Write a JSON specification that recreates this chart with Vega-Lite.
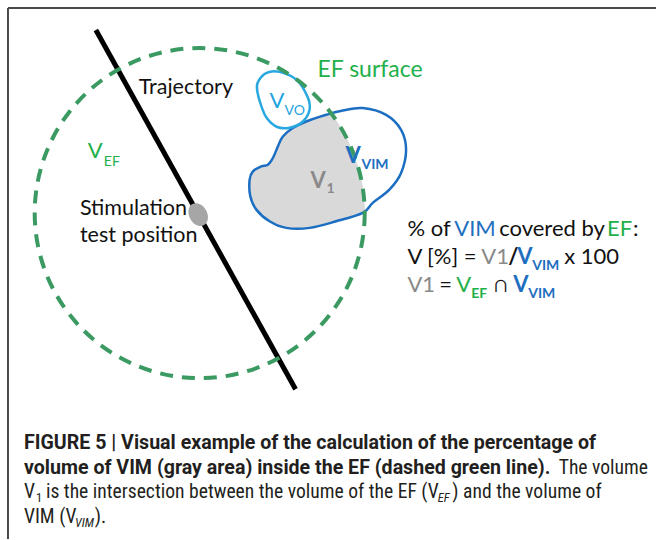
{
  "$schema": "https://vega.github.io/schema/vega-lite/v6.json",
  "width": 657,
  "height": 540,
  "autosize": {"type": "fit", "contains": "padding"},
  "padding": 0,
  "background": "white",
  "config": {"view": {"stroke": null}},
  "encoding": {
    "x": {"field": "x", "type": "quantitative", "scale": {"domain": [0, 657], "nice": false, "zero": false}, "axis": null},
    "y": {"field": "y", "type": "quantitative", "scale": {"domain": [0, 540], "nice": false, "zero": false, "reverse": true}, "axis": null}
  },
  "layer": [
    {
      "data": {"values": [
        {"x": 8, "y": 8, "x2": 657, "y2": 8},
        {"x": 8, "y": 8, "x2": 8, "y2": 540}
      ]},
      "mark": {"type": "rule", "stroke": "#4a4a4a", "strokeWidth": 2},
      "encoding": {"x2": {"field": "x2"}, "y2": {"field": "y2"}}
    },
    {
      "data": {"values": [
        {"i": 1, "x": 331.5, "y": 113.8},
        {"i": 2, "x": 326.7, "y": 115},
        {"i": 3, "x": 306.7, "y": 121.7},
        {"i": 4, "x": 293.3, "y": 128.3},
        {"i": 5, "x": 283.3, "y": 136.7},
        {"i": 6, "x": 278.3, "y": 146.7},
        {"i": 7, "x": 273.3, "y": 158.3},
        {"i": 8, "x": 268.3, "y": 165},
        {"i": 9, "x": 261.7, "y": 166.7},
        {"i": 10, "x": 253.3, "y": 171.7},
        {"i": 11, "x": 250, "y": 180},
        {"i": 12, "x": 250.7, "y": 196.7},
        {"i": 13, "x": 256.7, "y": 210},
        {"i": 14, "x": 270, "y": 221.7},
        {"i": 15, "x": 286.7, "y": 228.3},
        {"i": 16, "x": 310, "y": 228.3},
        {"i": 17, "x": 336.7, "y": 221.7},
        {"i": 18, "x": 365, "y": 211.7},
        {"i": 19, "x": 364.4, "y": 200},
        {"i": 20, "x": 362.5, "y": 185},
        {"i": 21, "x": 359.2, "y": 170},
        {"i": 22, "x": 354.3, "y": 155},
        {"i": 23, "x": 347.7, "y": 140},
        {"i": 24, "x": 339.3, "y": 125}
      ]},
      "mark": {"type": "line", "interpolate": "linear-closed", "fill": "#d9d9d9", "stroke": "#d9d9d9", "strokeWidth": 1},
      "encoding": {"order": {"field": "i", "type": "quantitative"}}
    },
    {
      "data": {"values": [
        {"i": 1, "x": 283.3, "y": 136.7},
        {"i": 2, "x": 293.3, "y": 128.3},
        {"i": 3, "x": 306.7, "y": 121.7},
        {"i": 4, "x": 326.7, "y": 115},
        {"i": 5, "x": 343.3, "y": 110.7},
        {"i": 6, "x": 363.3, "y": 108.3},
        {"i": 7, "x": 386.7, "y": 115},
        {"i": 8, "x": 401.7, "y": 130},
        {"i": 9, "x": 406.7, "y": 150},
        {"i": 10, "x": 401.7, "y": 173.3},
        {"i": 11, "x": 390, "y": 190},
        {"i": 12, "x": 373.3, "y": 203.3},
        {"i": 13, "x": 363.3, "y": 213.3},
        {"i": 14, "x": 336.7, "y": 221.7},
        {"i": 15, "x": 310, "y": 228.3},
        {"i": 16, "x": 286.7, "y": 228.3},
        {"i": 17, "x": 270, "y": 221.7},
        {"i": 18, "x": 256.7, "y": 210},
        {"i": 19, "x": 250.7, "y": 196.7},
        {"i": 20, "x": 250, "y": 180},
        {"i": 21, "x": 253.3, "y": 171.7},
        {"i": 22, "x": 261.7, "y": 166.7},
        {"i": 23, "x": 268.3, "y": 165},
        {"i": 24, "x": 273.3, "y": 158.3},
        {"i": 25, "x": 278.3, "y": 146.7}
      ]},
      "mark": {"type": "line", "interpolate": "cardinal-closed", "stroke": "#1b6ec2", "strokeWidth": 2.5},
      "encoding": {"order": {"field": "i", "type": "quantitative"}}
    },
    {
      "data": {"values": [
        {"i": 1, "x": 258, "y": 83},
        {"i": 2, "x": 267, "y": 73},
        {"i": 3, "x": 280, "y": 72},
        {"i": 4, "x": 297, "y": 80},
        {"i": 5, "x": 308, "y": 97},
        {"i": 6, "x": 310, "y": 110},
        {"i": 7, "x": 303, "y": 122},
        {"i": 8, "x": 290, "y": 128},
        {"i": 9, "x": 277, "y": 127},
        {"i": 10, "x": 267, "y": 118},
        {"i": 11, "x": 262, "y": 107},
        {"i": 12, "x": 258, "y": 93}
      ]},
      "mark": {"type": "line", "interpolate": "cardinal-closed", "stroke": "#29a8e0", "strokeWidth": 2.5},
      "encoding": {"order": {"field": "i", "type": "quantitative"}}
    },
    {
      "data": {"values": [{"x": 96, "y": 30, "x2": 296, "y2": 390}]},
      "mark": {"type": "rule", "stroke": "#000000", "strokeWidth": 5, "strokeCap": "butt"},
      "encoding": {"x2": {"field": "x2"}, "y2": {"field": "y2"}}
    },
    {
      "data": {"values": [{"x": 200, "y": 213.5}]},
      "mark": {"type": "point", "shape": "circle", "size": 108900, "filled": false, "stroke": "#3a9a62", "strokeWidth": 4, "strokeDash": [13, 9], "opacity": 1},
      "encoding": {}
    },
    {
      "data": {"values": [{"x": 198.5, "y": 215}]},
      "mark": {"type": "point", "shape": "M0,-1 A0.75,1 0 1,1 0,1 A0.75,1 0 1,1 0,-1 Z", "size": 576, "filled": true, "fill": "#a6a6a6", "strokeWidth": 0, "opacity": 1, "angle": 331},
      "encoding": {}
    },
    {
      "data": {"values": [
        {"x": 139, "y": 94, "text": "Trajectory", "term": "plain"},
        {"x": 80, "y": 215, "text": "Stimulation", "term": "plain"},
        {"x": 80, "y": 242, "text": "test position", "term": "plain"}
      ]},
      "mark": {"type": "text", "align": "left", "baseline": "alphabetic", "font": "Lato", "fontSize": 21.5},
      "encoding": {"text": {"field": "text"}, "color": {"field": "term", "type": "nominal", "scale": {"domain": ["plain", "EF", "VIM", "VO", "V1"], "range": ["#111111", "#22b04b", "#1f6fbf", "#1ea4df", "#8a8a8a"]}, "legend": null}}
    },
    {
      "data": {"values": [
        {"x": 318, "y": 77, "text": "EF surface", "term": "EF"}
      ]},
      "mark": {"type": "text", "align": "left", "baseline": "alphabetic", "font": "Lato", "fontSize": 23},
      "encoding": {"text": {"field": "text"}, "color": {"field": "term", "type": "nominal", "scale": {"domain": ["plain", "EF", "VIM", "VO", "V1"], "range": ["#111111", "#22b04b", "#1f6fbf", "#1ea4df", "#8a8a8a"]}, "legend": null}}
    },
    {
      "data": {"values": [
        {"x": 88, "y": 158, "text": "V", "term": "EF"},
        {"x": 270, "y": 108, "text": "V", "term": "VO"}
      ]},
      "mark": {"type": "text", "align": "left", "baseline": "alphabetic", "font": "Lato", "fontSize": 22},
      "encoding": {"text": {"field": "text"}, "color": {"field": "term", "type": "nominal", "scale": {"domain": ["plain", "EF", "VIM", "VO", "V1"], "range": ["#111111", "#22b04b", "#1f6fbf", "#1ea4df", "#8a8a8a"]}, "legend": null}}
    },
    {
      "data": {"values": [
        {"x": 285, "y": 115, "text": "VO", "term": "VO"},
        {"x": 104, "y": 166, "text": "EF", "term": "EF"}
      ]},
      "mark": {"type": "text", "align": "left", "baseline": "alphabetic", "font": "Lato", "fontSize": 14},
      "encoding": {"text": {"field": "text"}, "color": {"field": "term", "type": "nominal", "scale": {"domain": ["plain", "EF", "VIM", "VO", "V1"], "range": ["#111111", "#22b04b", "#1f6fbf", "#1ea4df", "#8a8a8a"]}, "legend": null}}
    },
    {
      "data": {"values": [
        {"x": 346, "y": 163, "text": "V", "term": "VIM"},
        {"x": 311, "y": 188, "text": "V", "term": "V1"}
      ]},
      "mark": {"type": "text", "align": "left", "baseline": "alphabetic", "font": "Lato", "fontSize": 22, "fontWeight": "bold"},
      "encoding": {"text": {"field": "text"}, "color": {"field": "term", "type": "nominal", "scale": {"domain": ["plain", "EF", "VIM", "VO", "V1"], "range": ["#111111", "#22b04b", "#1f6fbf", "#1ea4df", "#8a8a8a"]}, "legend": null}}
    },
    {
      "data": {"values": [
        {"x": 362, "y": 169, "text": "VIM", "term": "VIM"},
        {"x": 327, "y": 193, "text": "1", "term": "V1"},
        {"x": 533, "y": 270, "text": "VIM", "term": "VIM"},
        {"x": 472, "y": 299, "text": "EF", "term": "EF"},
        {"x": 529, "y": 299, "text": "VIM", "term": "VIM"}
      ]},
      "mark": {"type": "text", "align": "left", "baseline": "alphabetic", "font": "Lato", "fontSize": 14, "fontWeight": "bold"},
      "encoding": {"text": {"field": "text"}, "color": {"field": "term", "type": "nominal", "scale": {"domain": ["plain", "EF", "VIM", "VO", "V1"], "range": ["#111111", "#22b04b", "#1f6fbf", "#1ea4df", "#8a8a8a"]}, "legend": null}}
    },
    {
      "data": {"values": [
        {"x": 408, "y": 236, "text": "% of", "term": "plain"},
        {"x": 455, "y": 236, "text": "VIM", "term": "VIM"},
        {"x": 500, "y": 236, "text": "covered by", "term": "plain"},
        {"x": 608, "y": 236, "text": "EF", "term": "EF"},
        {"x": 634, "y": 236, "text": ":", "term": "plain"},
        {"x": 408, "y": 264, "text": "V [%] =", "term": "plain"},
        {"x": 482, "y": 264, "text": "V1", "term": "V1"},
        {"x": 565, "y": 264, "text": "x 100", "term": "plain"},
        {"x": 408, "y": 293, "text": "V1", "term": "V1"},
        {"x": 440, "y": 293, "text": "=", "term": "plain"},
        {"x": 457, "y": 293, "text": "V", "term": "EF"},
        {"x": 495, "y": 293, "text": "∩", "term": "plain"}
      ]},
      "mark": {"type": "text", "align": "left", "baseline": "alphabetic", "font": "Lato", "fontSize": 22},
      "encoding": {"text": {"field": "text"}, "color": {"field": "term", "type": "nominal", "scale": {"domain": ["plain", "EF", "VIM", "VO", "V1"], "range": ["#111111", "#22b04b", "#1f6fbf", "#1ea4df", "#8a8a8a"]}, "legend": null}}
    },
    {
      "data": {"values": [
        {"x": 509, "y": 264, "text": "/", "term": "plain"},
        {"x": 518, "y": 264, "text": "V", "term": "VIM"},
        {"x": 514, "y": 293, "text": "V", "term": "VIM"}
      ]},
      "mark": {"type": "text", "align": "left", "baseline": "alphabetic", "font": "Lato", "fontSize": 22, "fontWeight": "bold"},
      "encoding": {"text": {"field": "text"}, "color": {"field": "term", "type": "nominal", "scale": {"domain": ["plain", "EF", "VIM", "VO", "V1"], "range": ["#111111", "#22b04b", "#1f6fbf", "#1ea4df", "#8a8a8a"]}, "legend": null}}
    },
    {
      "data": {"values": [
        {"x": 24, "y": 450, "text": "FIGURE 5 | Visual example of the calculation of the percentage of"},
        {"x": 24, "y": 475, "text": "volume of VIM (gray area) inside the EF (dashed green line)."}
      ]},
      "mark": {"type": "text", "align": "left", "baseline": "alphabetic", "font": "Roboto", "fontSize": 19.6, "fontWeight": "bold", "color": "#231f20"},
      "encoding": {"text": {"field": "text"}}
    },
    {
      "data": {"values": [
        {"x": 24, "y": 499, "text": "V"},
        {"x": 46, "y": 499, "text": "is the intersection between the volume of the EF (V"},
        {"x": 453, "y": 499, "text": ") and the volume of"},
        {"x": 24, "y": 524, "text": "VIM (V"},
        {"x": 95, "y": 524, "text": ")."}
      ]},
      "mark": {"type": "text", "align": "left", "baseline": "alphabetic", "font": "Liberation Sans Narrow, Roboto Condensed, Liberation Sans", "fontSize": 19.6, "color": "#231f20"},
      "encoding": {"text": {"field": "text"}}
    },
    {
      "data": {"values": [
        {"x": 649, "y": 475, "text": "The volume"}
      ]},
      "mark": {"type": "text", "align": "right", "baseline": "alphabetic", "font": "Liberation Sans Narrow, Roboto Condensed, Liberation Sans", "fontSize": 19.6, "color": "#231f20"},
      "encoding": {"text": {"field": "text"}}
    },
    {
      "data": {"values": [
        {"x": 36, "y": 503, "text": "1"}
      ]},
      "mark": {"type": "text", "align": "left", "baseline": "alphabetic", "font": "Liberation Sans Narrow, Roboto Condensed, Liberation Sans", "fontSize": 12.5, "color": "#231f20"},
      "encoding": {"text": {"field": "text"}}
    },
    {
      "data": {"values": [
        {"x": 438.5, "y": 503, "text": "EF"},
        {"x": 75, "y": 528, "text": "VIM"}
      ]},
      "mark": {"type": "text", "align": "left", "baseline": "alphabetic", "font": "Liberation Sans Narrow, Roboto Condensed, Liberation Sans", "fontSize": 12.5, "fontStyle": "italic", "color": "#231f20"},
      "encoding": {"text": {"field": "text"}}
    }
  ]
}
